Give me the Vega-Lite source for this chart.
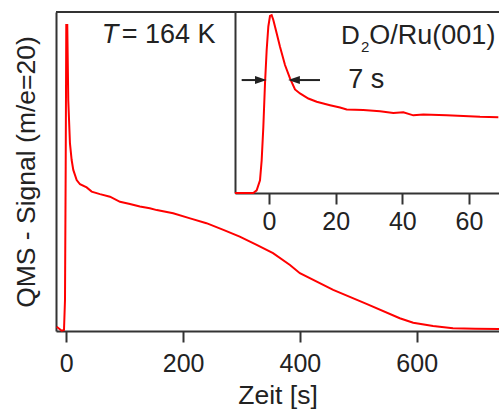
{
  "$schema": "https://vega.github.io/schema/vega-lite/v6.json",
  "width": 443,
  "height": 319,
  "autosize": {"type": "none"},
  "padding": {"left": 56, "top": 12, "right": 0, "bottom": 80},
  "background": "white",
  "config": {
    "view": {"stroke": null},
    "font": "Liberation Sans",
    "axis": {
      "grid": false,
      "domainColor": "#333333",
      "domainWidth": 2,
      "tickColor": "#333333",
      "tickWidth": 2,
      "tickSize": 11,
      "labelFont": "Liberation Sans",
      "labelFontSize": 25,
      "labelColor": "#222222",
      "titleFont": "Liberation Sans",
      "titleFontSize": 26.5,
      "titleFontWeight": "normal",
      "titleColor": "#222222"
    }
  },
  "datasets": {
    "main": [
      {"t": -16.4, "s": 1.35}, {"t": -7.9, "s": 0.1}, {"t": -3.9, "s": 0.3}, {"t": -2.2, "s": 9.7},
      {"t": -1.0, "s": 51.5}, {"t": 0.0, "s": 95.9}, {"t": 1.7, "s": 95.9}, {"t": 3.4, "s": 72.4},
      {"t": 6.3, "s": 58.8}, {"t": 9.2, "s": 53.6}, {"t": 12.0, "s": 50.5}, {"t": 17.8, "s": 47.3},
      {"t": 23.5, "s": 46.0}, {"t": 34.9, "s": 45.0}, {"t": 43.5, "s": 43.7}, {"t": 57.7, "s": 42.9},
      {"t": 74.8, "s": 42.1}, {"t": 92.0, "s": 40.5}, {"t": 109.0, "s": 39.8}, {"t": 126.0, "s": 39.0},
      {"t": 143.0, "s": 38.5}, {"t": 155.0, "s": 37.9}, {"t": 183.0, "s": 36.9}, {"t": 212.0, "s": 35.3},
      {"t": 240.0, "s": 33.8}, {"t": 269.0, "s": 31.7}, {"t": 297.0, "s": 29.6}, {"t": 326.0, "s": 27.0},
      {"t": 354.0, "s": 24.4}, {"t": 383.0, "s": 20.7}, {"t": 400.0, "s": 18.1}, {"t": 457.0, "s": 12.9},
      {"t": 514.0, "s": 8.5}, {"t": 571.0, "s": 4.0}, {"t": 594.0, "s": 2.6}, {"t": 628.0, "s": 1.6},
      {"t": 662.0, "s": 0.85}, {"t": 700.0, "s": 0.7}, {"t": 741.0, "s": 0.6}
    ],
    "inset": [
      {"t": -10.2, "s": 0}, {"t": -4.7, "s": 0}, {"t": -3.7, "s": 1.5}, {"t": -2.7, "s": 7.0},
      {"t": -2.2, "s": 18.0}, {"t": -1.7, "s": 36.5}, {"t": -1.2, "s": 60.5}, {"t": -0.7, "s": 79.0},
      {"t": -0.2, "s": 92.0}, {"t": 0.3, "s": 97.8}, {"t": 0.8, "s": 98.3}, {"t": 1.3, "s": 95.6},
      {"t": 2.3, "s": 88.2}, {"t": 3.3, "s": 80.8}, {"t": 4.8, "s": 70.7}, {"t": 6.3, "s": 63.3},
      {"t": 7.8, "s": 57.2}, {"t": 9.3, "s": 55.0}, {"t": 11.8, "s": 52.2}, {"t": 14.3, "s": 50.4},
      {"t": 18.3, "s": 48.5}, {"t": 21.3, "s": 47.2}, {"t": 23.3, "s": 46.1}, {"t": 28.3, "s": 45.8},
      {"t": 33.3, "s": 45.2}, {"t": 37.3, "s": 44.2}, {"t": 40.3, "s": 44.6}, {"t": 43.3, "s": 42.9},
      {"t": 46.3, "s": 43.4}, {"t": 53.3, "s": 43.0}, {"t": 58.3, "s": 42.6}, {"t": 63.3, "s": 42.1},
      {"t": 68.8, "s": 41.9}
    ],
    "one": [{}]
  },
  "layer": [
    {
      "layer": [
        {
          "data": {"name": "main"},
          "mark": {"type": "line", "color": "#ff0000", "strokeWidth": 2, "interpolate": "linear"},
          "encoding": {
            "x": {"field": "t", "type": "quantitative",
                  "scale": {"domain": [-17.6, 740.9], "nice": false, "zero": false},
                  "axis": {"orient": "bottom", "values": [0, 200, 400, 600], "title": "Zeit [s]", "labelPadding": 9, "titlePadding": 6}},
            "y": {"field": "s", "type": "quantitative",
                  "scale": {"domain": [0, 100], "nice": false},
                  "axis": {"orient": "left", "ticks": false, "labels": false, "title": "QMS - Signal (m/e=20)", "titlePadding": 16}}
          }
        },
        {
          "data": {"name": "one"},
          "mark": {"type": "rule", "color": "#333333", "strokeWidth": 2},
          "encoding": {"y": {"datum": 100}}
        },
        {
          "data": {"name": "one"},
          "mark": {"type": "text", "text": "T", "fontStyle": "italic", "fontSize": 27, "align": "left", "baseline": "alphabetic", "color": "#222222"},
          "encoding": {"x": {"datum": 60.6}, "y": {"datum": 90.2}}
        },
        {
          "data": {"name": "one"},
          "mark": {"type": "text", "text": "= 164 K", "fontSize": 27, "align": "left", "baseline": "alphabetic", "color": "#222222"},
          "encoding": {"x": {"datum": 94.9}, "y": {"datum": 90.2}}
        }
      ]
    },
    {
      "layer": [
        {
          "data": {"name": "inset"},
          "mark": {"type": "line", "color": "#ff0000", "strokeWidth": 2},
          "encoding": {
            "x": {"field": "t", "type": "quantitative",
                  "scale": {"domain": [-10.2, 69], "nice": false, "zero": false, "range": [179, 443]},
                  "axis": {"orient": "bottom", "offset": -138, "values": [0, 20, 40, 60], "title": null, "labelPadding": 5}},
            "y": {"field": "s", "type": "quantitative",
                  "scale": {"domain": [0, 100], "nice": false, "range": [181, 0]},
                  "axis": {"orient": "left", "offset": -179, "ticks": false, "labels": false, "title": null}}
          }
        },
        {
          "data": {"name": "one"},
          "mark": {"type": "rule", "color": "#222222", "strokeWidth": 2},
          "encoding": {"x": {"datum": -8.2}, "x2": {"datum": -2.5}, "y": {"datum": 62.4}}
        },
        {
          "data": {"name": "one"},
          "mark": {"type": "rule", "color": "#222222", "strokeWidth": 2},
          "encoding": {"x": {"datum": 7.5}, "x2": {"datum": 15.3}, "y": {"datum": 62.4}}
        },
        {
          "data": {"name": "one"},
          "mark": {"type": "point", "shape": "M-1,-0.68L1,0L-1,0.68Z", "size": 137, "filled": true, "color": "#222222", "opacity": 1},
          "encoding": {"x": {"datum": -2.45}, "y": {"datum": 62.4}}
        },
        {
          "data": {"name": "one"},
          "mark": {"type": "point", "shape": "M1,-0.68L-1,0L1,0.68Z", "size": 137, "filled": true, "color": "#222222", "opacity": 1},
          "encoding": {"x": {"datum": 7.5}, "y": {"datum": 62.4}}
        },
        {
          "data": {"name": "one"},
          "mark": {"type": "text", "text": "7 s", "fontSize": 27, "align": "left", "baseline": "alphabetic", "color": "#222222"},
          "encoding": {"x": {"datum": 23.8}, "y": {"datum": 57.8}}
        },
        {
          "data": {"name": "one"},
          "mark": {"type": "text", "text": "D", "fontSize": 26, "align": "left", "baseline": "alphabetic", "color": "#222222"},
          "encoding": {"x": {"datum": 21.6}, "y": {"datum": 82.1}}
        },
        {
          "data": {"name": "one"},
          "mark": {"type": "text", "text": "2", "fontSize": 15, "align": "left", "baseline": "alphabetic", "color": "#222222"},
          "encoding": {"x": {"datum": 27.6}, "y": {"datum": 78.0}}
        },
        {
          "data": {"name": "one"},
          "mark": {"type": "text", "text": "O/Ru(001)", "fontSize": 27, "align": "left", "baseline": "alphabetic", "color": "#222222"},
          "encoding": {"x": {"datum": 30.1}, "y": {"datum": 82.1}}
        }
      ]
    }
  ],
  "resolve": {"scale": {"x": "independent", "y": "independent"}, "axis": {"x": "independent", "y": "independent"}}
}
